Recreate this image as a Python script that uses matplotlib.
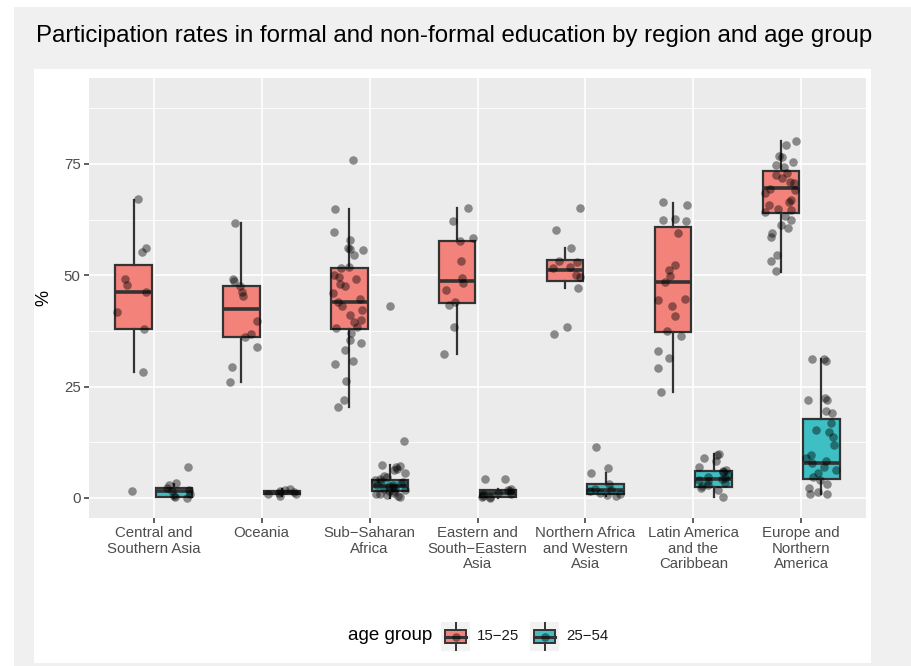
import numpy as np
import matplotlib
matplotlib.use("Agg")
import matplotlib.pyplot as plt
from matplotlib.patches import Rectangle

plt.rcParams["font.family"] = ["Liberation Sans", "DejaVu Sans"]

# ---------------- data ----------------
regions = [
    "Central and\nSouthern Asia",
    "Oceania",
    "Sub\u2212Saharan\nAfrica",
    "Eastern and\nSouth\u2212Eastern\nAsia",
    "Northern Africa\nand Western\nAsia",
    "Latin America\nand the\nCaribbean",
    "Europe and\nNorthern\nAmerica",
]
groups = ["15\u221225", "25\u221254"]

# box statistics per region (whisker low, Q1, median, Q3, whisker high)
young_lo = [28.2, 26.1, 20.5, 32.3, 47.1, 23.9, 50.8]
young_q1 = [38.0, 36.1, 38.0, 43.7, 48.7, 37.2, 63.9]
young_med = [46.2, 42.5, 43.9, 48.7, 51.2, 48.6, 69.7]
young_q3 = [52.2, 47.6, 51.6, 57.8, 53.4, 60.8, 73.4]
young_hi = [66.9, 61.7, 64.9, 65.1, 56.1, 66.2, 80.2]

adult_lo = [0.0, 0.5, 0.0, 0.1, 0.5, 0.3, 0.8]
adult_q1 = [0.2, 0.8, 1.5, 0.3, 1.0, 2.4, 4.3]
adult_med = [1.6, 1.1, 2.6, 1.1, 1.8, 4.2, 7.8]
adult_q3 = [2.3, 1.5, 4.0, 1.8, 3.1, 6.1, 17.7]
adult_hi = [3.2, 2.0, 7.4, 2.0, 5.6, 9.8, 31.1]

# country-level participation rates, age 15-25
young_central = [67.1, 56.2, 55.3, 49.2, 47.8, 46.2, 41.8, 38.0, 28.2, 1.6]
young_oceania = [61.8, 48.8, 49.2, 47.6, 46.3, 45.4, 39.8, 36.8, 36.2, 34.0, 29.3, 26.1]
young_subsaharan = [75.9, 64.9, 59.7, 58.0, 56.1, 55.7, 54.6, 56.0, 51.8, 51.6, 50.1,
                    49.7, 49.1, 48.1, 47.5, 46.1, 44.6, 43.9, 43.0, 42.1, 41.1, 40.0,
                    39.6, 38.5, 38.1, 37.1, 35.4, 34.7, 33.2, 30.8, 30.1, 26.2, 21.9, 20.5]
young_eastern = [65.1, 62.1, 58.3, 57.6, 53.1, 49.5, 48.2, 46.7, 43.9, 43.3, 38.4, 32.3]
young_nafrica = [65.1, 60.2, 56.2, 53.1, 52.9, 51.9, 51.6, 50.1, 49.7, 47.1, 38.4, 36.9]
young_latin = [66.5, 65.8, 62.6, 62.4, 62.2, 59.4, 52.2, 51.2, 49.9, 48.6, 44.5, 44.6,
               43.1, 40.9, 37.6, 36.4, 33.0, 31.4, 29.1, 23.9]
young_europe = [80.2, 79.3, 76.7, 76.5, 75.4, 74.8, 74.4, 72.9, 72.5, 71.8, 71.0, 70.7,
                69.3, 69.2, 68.4, 66.5, 66.8, 65.8, 64.8, 64.7, 64.1, 63.3, 62.4, 61.3,
                60.6, 59.6, 58.7, 54.6, 53.1, 51.0]

# country-level participation rates, age 25-54
adult_central = [7.0, 3.3, 2.9, 2.2, 1.8, 1.5, 1.0, 0.5, 0.2, 0.0]
adult_oceania = [2.0, 1.8, 1.5, 1.3, 1.1, 1.0, 0.8, 0.5]
adult_subsaharan = [43.1, 12.9, 7.4, 7.2, 7.0, 6.6, 6.2, 5.5, 5.0, 4.6, 4.2, 4.0, 3.8,
                    3.5, 3.3, 3.0, 2.8, 2.6, 2.4, 2.2, 2.0, 1.8, 1.6, 1.5, 1.2, 1.0,
                    0.8, 0.6, 0.4, 0.2]
adult_eastern = [4.3, 4.3, 2.0, 1.8, 1.5, 1.2, 1.0, 0.8, 0.5, 0.3, 0.2, 0.1]
adult_nafrica = [11.5, 6.8, 5.6, 3.1, 2.0, 1.8, 1.5, 1.2, 1.0, 0.7, 0.5]
adult_latin = [9.8, 9.7, 8.9, 8.2, 7.0, 6.0, 5.2, 4.4, 4.1, 3.7, 2.9, 2.2, 1.8, 0.2,
               4.8, 3.3, 5.8, 2.6, 4.2, 6.3]
adult_europe = [31.1, 31.2, 30.8, 22.4, 22.0, 21.9, 19.5, 19.0, 16.9, 15.3, 14.9, 13.8,
                11.9, 9.7, 8.9, 8.2, 7.8, 7.0, 6.3, 5.5, 4.8, 4.0, 3.1, 2.2, 1.4, 0.9, 0.8]

young_points = [young_central, young_oceania, young_subsaharan, young_eastern,
                young_nafrica, young_latin, young_europe]
adult_points = [adult_central, adult_oceania, adult_subsaharan, adult_eastern,
                adult_nafrica, adult_latin, adult_europe]

# ---------------- styling ----------------
fill_colors = ["#F2827A", "#3DBFC4"]
panel_bg = "#EBEBEB"
edge = "#333333"
W, H = 911, 666

fig = plt.figure(figsize=(W / 100, H / 100), dpi=100, facecolor="white")

# framed backgrounds
fig.patches.append(Rectangle((14 / W, 0), 1 - 14 / W, (H - 7) / H,
                             transform=fig.transFigure, facecolor="#F0F0F0",
                             edgecolor="none", zorder=-10))
fig.patches.append(Rectangle((34 / W, (H - 663) / H), (871 - 34) / W, (663 - 69) / H,
                             transform=fig.transFigure, facecolor="white",
                             edgecolor="none", zorder=-9))

ax = fig.add_axes([89 / W, (H - 518) / H, (866 - 89) / W, (518 - 78) / H])
ax.set_facecolor(panel_bg)

offset = 0.1875
box_w = 0.3375
x = np.arange(1, len(regions) + 1)


def make_stats(lo, q1, med, q3, hi):
    return [dict(whislo=a, q1=b, med=c, q3=d, whishi=e, fliers=[])
            for a, b, c, d, e in zip(lo, q1, med, q3, hi)]


stat_sets = [
    make_stats(young_lo, young_q1, young_med, young_q3, young_hi),
    make_stats(adult_lo, adult_q1, adult_med, adult_q3, adult_hi),
]

for k, (stats, color) in enumerate(zip(stat_sets, fill_colors)):
    pos = x + (offset if k else -offset)
    ax.bxp(stats, positions=pos, widths=box_w, patch_artist=True,
           showcaps=False, showfliers=False, manage_ticks=False,
           boxprops=dict(facecolor=color, edgecolor=edge, linewidth=1.6),
           medianprops=dict(color=edge, linewidth=2.6),
           whiskerprops=dict(color=edge, linewidth=1.6),
           zorder=2)

# jittered country points
rng = np.random.default_rng(7)
for k, pts_list in enumerate([young_points, adult_points]):
    for i, pts in enumerate(pts_list):
        centre = x[i] + (offset if k else -offset)
        jx = centre + rng.uniform(-0.15, 0.15, len(pts))
        ax.scatter(jx, pts, s=38, color="black", alpha=0.42, linewidths=0, zorder=3)

ax.set_xlim(0.4, 7.6)
ax.set_ylim(-4.5, 94.3)
ax.set_yticks([0, 25, 50, 75])
ax.set_yticks([12.5, 37.5, 62.5, 87.5], minor=True)
ax.set_xticks(x)
ax.set_xticklabels(regions, fontsize=10.8, color="#4D4D4D", linespacing=1.12)
ax.tick_params(axis="y", labelsize=10.8, labelcolor="#4D4D4D")
ax.tick_params(which="major", color=edge, length=3.6, width=1.1, pad=2.5)
ax.tick_params(which="minor", length=0)
ax.grid(which="major", color="white", linewidth=1.2)
ax.grid(which="minor", color="white", linewidth=0.6)
ax.set_axisbelow(True)
for s in ax.spines.values():
    s.set_visible(False)
ax.set_ylabel("%", fontsize=13, labelpad=8)

fig.text(36 / W, 1 - 36 / H,
         "Participation rates in formal and non-formal education by region and age group",
         fontsize=17.3, ha="left", va="center", color="black")

# legend
ky = (H - 651) / H
kh = 29 / H
kw = 29 / W
fig.text(432 / W, 1 - 636 / H, "age group", fontsize=13.5, ha="right", va="center")
for key_x, lab_x, color, lab in [(441, 477, fill_colors[0], groups[0]),
                                  (530, 566, fill_colors[1], groups[1])]:
    kax = fig.add_axes([key_x / W, ky, kw, kh])
    kax.set_facecolor("#F2F2F2")
    kax.set_xlim(0, 1)
    kax.set_ylim(0, 1)
    kax.add_patch(Rectangle((0.15, 0.28), 0.7, 0.44, facecolor=color,
                            edgecolor=edge, linewidth=1.4))
    kax.plot([0.5, 0.5], [0.05, 0.28], color=edge, lw=1.4)
    kax.plot([0.5, 0.5], [0.72, 0.95], color=edge, lw=1.4)
    kax.plot([0.15, 0.85], [0.5, 0.5], color=edge, lw=2.2)
    kax.scatter([0.5], [0.5], s=38, color="black", alpha=0.42, linewidths=0, zorder=3)
    kax.set_xticks([])
    kax.set_yticks([])
    for s in kax.spines.values():
        s.set_visible(False)
    fig.text(lab_x / W, 1 - 636 / H, lab, fontsize=10.8, ha="left", va="center",
             color="#1A1A1A")

fig.savefig("out.png", dpi=100, facecolor=fig.get_facecolor())
